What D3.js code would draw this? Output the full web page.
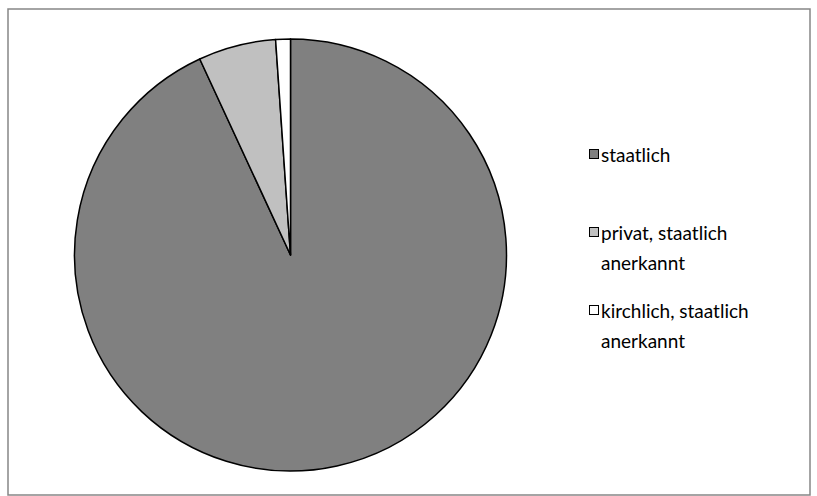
<!DOCTYPE html>
<html>
<head>
<meta charset="utf-8">
<script src="https://cdn.jsdelivr.net/npm/d3@7/dist/d3.min.js"></script>
<style>
  html, body { margin: 0; padding: 0; background: #ffffff; }
  svg { display: block; }
  text { font-family: Lato, "Open Sans", sans-serif; fill: #000; }
</style>
</head>
<body>
<svg id="chart" width="817" height="496"></svg>
<script>
// Schulträger – Anteile in Prozent
const categories = ["staatlich", "privat, staatlich anerkannt", "kirchlich, staatlich anerkannt"];
const values = [93.1, 5.8, 1.1];
const legendLines = [["staatlich"], ["privat, staatlich", "anerkannt"], ["kirchlich, staatlich", "anerkannt"]];
const fills = ["#808080", "#c0c0c0", "#ffffff"];

const svg = d3.select("#chart");

// chart area border
svg.append("rect")
  .attr("x", 8).attr("y", 9)
  .attr("width", 802).attr("height", 486)
  .attr("fill", "#ffffff")
  .attr("stroke", "#868686")
  .attr("stroke-width", 1.5);

const cx = 290.5, cy = 255, radius = 216;

const color = d3.scaleOrdinal().domain(categories).range(fills);

const pie = d3.pie().sort(null).value(d => d.value);
const arc = d3.arc().innerRadius(0).outerRadius(radius);

const data = categories.map((c, i) => ({ name: c, value: values[i] }));

const g = svg.append("g").attr("transform", `translate(${cx},${cy})`);
g.selectAll("path")
  .data(pie(data))
  .join("path")
  .attr("d", arc)
  .attr("fill", d => color(d.data.name))
  .attr("stroke", "#000")
  .attr("stroke-width", 1.5)
  .attr("stroke-linejoin", "round");

// legend
const legendY = [162, 240, 318];
const lineH = 30;
const legend = svg.append("g");
categories.forEach((c, i) => {
  const y = legendY[i];
  legend.append("rect")
    .attr("x", 589.5).attr("y", y - 12.5)
    .attr("width", 9).attr("height", 9)
    .attr("fill", color(c))
    .attr("stroke", "#000")
    .attr("stroke-width", 1);
  const t = legend.append("text")
    .attr("x", 601).attr("y", y)
    .style("font-size", "19px");
  legendLines[i].forEach((ln, j) => {
    t.append("tspan").attr("x", 601).attr("y", y + j * lineH).text(ln);
  });
});
</script>
</body>
</html>
